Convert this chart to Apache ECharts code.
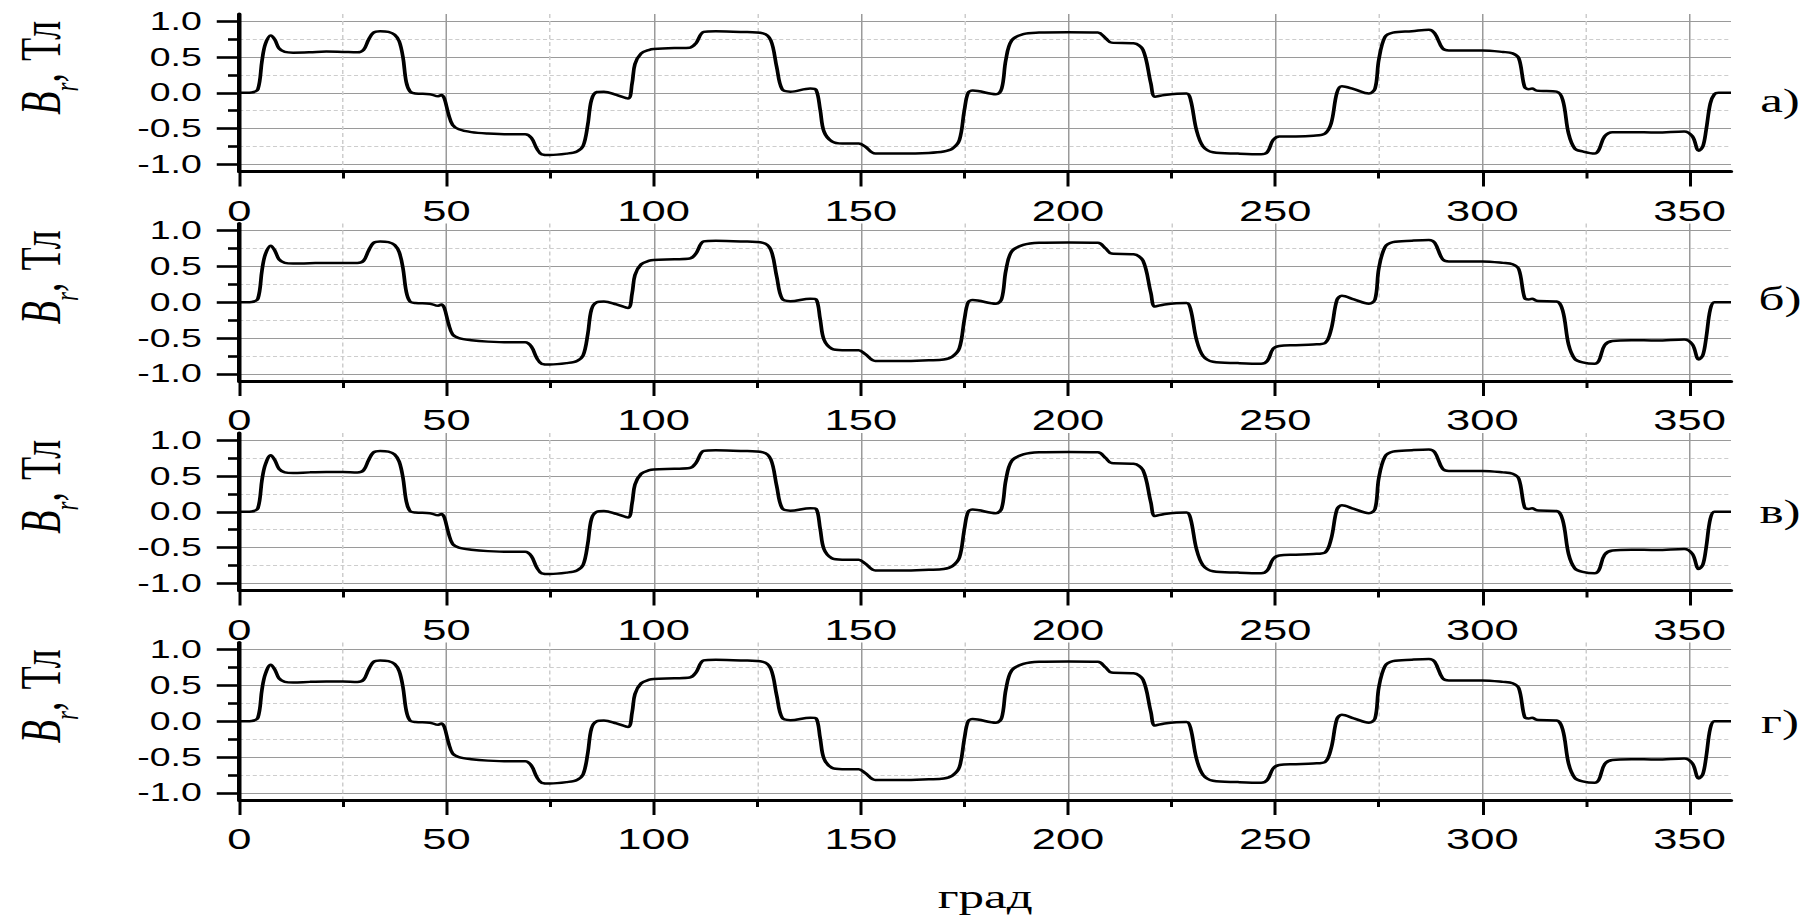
<!DOCTYPE html>
<html><head><meta charset="utf-8">
<script src="https://cdn.jsdelivr.net/npm/echarts@6/dist/echarts.min.js"></script>
<style>
html,body{margin:0;padding:0;background:#fff;overflow:hidden}
#wrap{width:1819px;height:916px;overflow:hidden;position:relative;background:#fff}
#c{position:absolute;left:0;top:0;height:916px;transform-origin:0 0}
</style></head>
<body><div id="wrap"><div id="c"></div></div>
<script>
// ---- data (angle in degrees, Br in T) ----
const angles = [
 0,3,4.5,5.5,6.3,7.6,8.6,9.6,11,13,
 17,21,25,28.5,30,31.2,32.4,34,36,37.5,
 38.6,39.5,40.3,41.2,42.5,46,48,48.8,49.5,50.5,
 51.5,53,56,60,65,69,70.5,71.8,73,75,
 79,81.5,83,84.1,85,86.3,88,91,93.8,94.8,
 95.5,97,99,100,105,108.7,110.2,112.1,115,121,
 126.4,128.3,129.7,131,133,137.8,139.2,140.2,141.1,143,
 145.5,149.5,151,153.5,160,166.4,170,172.1,173.8,175,
 175.9,177,182.6,184,185,186.4,189.2,193,200,207.2,
 209.1,210.5,215.8,218.1,220,221,223.3,228.6,229.6,231,
 232.6,235,241,246.6,248.1,249.5,251,255,259.2,262,
 263.5,264.9,266.1,269,272.6,274.1,275,276.5,278.4,283,
 287.1,288.5,290.4,291.9,300,305,307.3,308.8,310.2,311.2,
 312,313.1,317.9,319.4,320.8,322.3,324.2,327.1,328.1,329.5,
 331.4,336,342,348.7,350.7,352.2,353.2,354,355,356,
 357,360
];
const brA = [
 0,0.005,0.05,0.45,0.68,0.80,0.74,0.62,0.57,0.56,
 0.565,0.575,0.57,0.565,0.6,0.74,0.84,0.86,0.85,0.81,
 0.72,0.5,0.15,0.02,-0.01,-0.02,-0.05,-0.03,-0.08,-0.3,
 -0.45,-0.51,-0.55,-0.57,-0.58,-0.58,-0.63,-0.78,-0.86,-0.87,
 -0.85,-0.82,-0.74,-0.45,-0.1,0.01,0.015,-0.03,-0.08,0.13,
 0.4,0.55,0.6,0.61,0.625,0.63,0.69,0.85,0.86,0.85,
 0.83,0.73,0.36,0.05,0.015,0.06,0.04,-0.24,-0.54,-0.68,
 -0.71,-0.71,-0.75,-0.85,-0.85,-0.84,-0.82,-0.78,-0.66,-0.24,
 0.0,0.03,-0.02,0.06,0.46,0.73,0.82,0.84,0.845,0.84,
 0.76,0.70,0.69,0.6,0.13,-0.055,-0.03,-0.01,-0.1,-0.52,
 -0.75,-0.83,-0.85,-0.86,-0.83,-0.66,-0.61,-0.61,-0.6,-0.57,
 -0.43,0.0,0.09,0.05,-0.01,0.06,0.46,0.78,0.84,0.86,
 0.88,0.83,0.62,0.59,0.59,0.57,0.55,0.48,0.08,0.05,
 0.06,0.03,0.015,-0.1,-0.57,-0.78,-0.82,-0.85,-0.8,-0.61,
 -0.55,-0.55,-0.555,-0.54,-0.61,-0.81,-0.75,-0.52,-0.15,-0.02,
 0,0
];
const brB = [
 0,0.005,0.05,0.45,0.67,0.79,0.72,0.60,0.55,0.54,
 0.545,0.55,0.55,0.55,0.58,0.72,0.83,0.85,0.84,0.80,
 0.70,0.48,0.15,0.01,-0.01,-0.02,-0.05,-0.03,-0.08,-0.3,
 -0.45,-0.5,-0.53,-0.55,-0.56,-0.56,-0.62,-0.78,-0.86,-0.87,
 -0.85,-0.82,-0.74,-0.45,-0.1,0.0,0.01,-0.03,-0.08,0.12,
 0.38,0.53,0.58,0.59,0.6,0.61,0.68,0.85,0.86,0.85,
 0.83,0.73,0.36,0.05,0.015,0.05,0.04,-0.24,-0.52,-0.65,
 -0.67,-0.67,-0.72,-0.82,-0.82,-0.81,-0.8,-0.76,-0.64,-0.24,
 0.0,0.03,-0.02,0.05,0.44,0.71,0.80,0.83,0.835,0.83,
 0.75,0.68,0.67,0.58,0.13,-0.06,-0.03,-0.01,-0.1,-0.52,
 -0.75,-0.83,-0.85,-0.86,-0.82,-0.65,-0.61,-0.60,-0.59,-0.57,
 -0.38,0.03,0.09,0.04,-0.02,0.04,0.47,0.77,0.84,0.86,
 0.87,0.83,0.6,0.57,0.57,0.55,0.53,0.46,0.06,0.04,
 0.05,0.02,0.01,-0.12,-0.59,-0.79,-0.84,-0.86,-0.82,-0.6,
 -0.54,-0.53,-0.535,-0.52,-0.59,-0.8,-0.74,-0.5,-0.1,0,
 0,0
];
const brC = [
 0,0.005,0.05,0.45,0.66,0.79,0.72,0.60,0.55,0.54,
 0.55,0.555,0.555,0.55,0.58,0.72,0.83,0.85,0.84,0.80,
 0.70,0.48,0.15,0.01,-0.01,-0.02,-0.05,-0.03,-0.08,-0.3,
 -0.45,-0.5,-0.53,-0.55,-0.56,-0.56,-0.62,-0.78,-0.86,-0.87,
 -0.85,-0.82,-0.74,-0.45,-0.1,0.0,0.01,-0.03,-0.08,0.12,
 0.38,0.53,0.58,0.59,0.6,0.61,0.68,0.85,0.86,0.85,
 0.83,0.73,0.36,0.05,0.015,0.05,0.04,-0.24,-0.52,-0.65,
 -0.67,-0.67,-0.72,-0.82,-0.82,-0.81,-0.8,-0.76,-0.64,-0.24,
 0.0,0.03,-0.02,0.05,0.44,0.71,0.80,0.83,0.835,0.83,
 0.75,0.68,0.67,0.58,0.13,-0.06,-0.03,-0.01,-0.1,-0.52,
 -0.75,-0.83,-0.85,-0.86,-0.82,-0.66,-0.61,-0.60,-0.59,-0.57,
 -0.38,0.03,0.09,0.04,-0.02,0.04,0.47,0.77,0.84,0.86,
 0.87,0.83,0.6,0.57,0.57,0.55,0.53,0.46,0.06,0.04,
 0.05,0.02,0.01,-0.12,-0.59,-0.79,-0.84,-0.86,-0.82,-0.6,
 -0.54,-0.53,-0.535,-0.52,-0.59,-0.8,-0.74,-0.5,-0.1,0,
 0,0
];
const brD = [
 0,0.005,0.05,0.45,0.66,0.79,0.72,0.60,0.55,0.54,
 0.55,0.555,0.555,0.55,0.58,0.72,0.83,0.85,0.84,0.80,
 0.70,0.48,0.15,0.01,-0.01,-0.02,-0.05,-0.03,-0.08,-0.3,
 -0.45,-0.5,-0.53,-0.55,-0.56,-0.56,-0.62,-0.78,-0.86,-0.87,
 -0.85,-0.82,-0.74,-0.45,-0.1,0.0,0.01,-0.03,-0.08,0.12,
 0.38,0.53,0.58,0.59,0.6,0.61,0.68,0.85,0.86,0.85,
 0.83,0.73,0.36,0.05,0.015,0.05,0.04,-0.24,-0.52,-0.65,
 -0.67,-0.67,-0.72,-0.82,-0.82,-0.81,-0.8,-0.76,-0.64,-0.24,
 0.0,0.03,-0.02,0.05,0.44,0.71,0.80,0.83,0.835,0.83,
 0.75,0.68,0.67,0.58,0.13,-0.06,-0.03,-0.01,-0.1,-0.52,
 -0.75,-0.83,-0.85,-0.86,-0.82,-0.66,-0.61,-0.60,-0.59,-0.57,
 -0.38,0.03,0.09,0.04,-0.02,0.04,0.47,0.77,0.84,0.86,
 0.87,0.83,0.6,0.57,0.57,0.55,0.53,0.46,0.06,0.04,
 0.05,0.02,0.01,-0.12,-0.59,-0.79,-0.84,-0.86,-0.82,-0.6,
 -0.54,-0.53,-0.535,-0.52,-0.59,-0.8,-0.74,-0.5,-0.1,0,
 0,0
];
const panelSeries = [brA, brB, brC, brD];
const panelLabels = ['а)', 'б)', 'в)', 'г)'];
const xMajor = [0, 50, 100, 150, 200, 250, 300, 350];
const xMinor = [25, 75, 125, 175, 225, 275, 325];
const yMajor = [-1, -0.5, 0, 0.5, 1];
const yMinor = [-0.75, -0.25, 0.25, 0.75];
const xAxisTitle = 'град';
const yAxisTitle = '{b|B}{r|r}{c|,}{t|Тл}';

// ---- layout (target pixels; the drawing is stretched horizontally by S) ----
const S = 1.5;
const W = 1819 / S;
const el = document.getElementById('c');
el.style.width = W + 'px';
el.style.transform = 'scaleX(' + S + ')';
const chart = echarts.init(el, null, {renderer: 'svg', width: W, height: 916});

const tops = [14, 223.5, 433, 642.5];
const GH = 157.5, GL = 232, GW = 1499;
const labelY = [100, 298, 511, 721];
const MAJ = '#9a9a9a', MIN = '#cdcdcd';

const grid = [], xAxis = [], yAxis = [], series = [], graphic = [];
for (let i = 0; i < 4; i++) {
  grid.push({left: GL / S, width: GW / S, top: tops[i], height: GH, containLabel: false});
  xAxis.push({
    gridIndex: i, type: 'value', min: 0, max: 360, position: 'bottom',
    axisLine: {show: true, onZero: false, lineStyle: {color: '#000', width: 3}},
    axisTick: {show: true, customValues: xMajor, length: 15, lineStyle: {color: '#000', width: 2}},
    axisLabel: {show: true, customValues: xMajor, margin: 25, color: '#000',
      fontFamily: 'Liberation Sans', fontSize: 29},
    splitLine: {show: true, lineStyle: {color: MAJ, width: 1}},
    name: i === 3 ? xAxisTitle : '', nameLocation: 'middle', nameGap: 79,
    nameTextStyle: {fontFamily: 'Liberation Serif', fontSize: 34, color: '#000'}
  });
  xAxis.push({
    gridIndex: i, type: 'value', min: 0, max: 360, position: 'bottom',
    axisLine: {show: false, onZero: false},
    axisTick: {show: true, customValues: xMinor, length: 7, lineStyle: {color: '#000', width: 2}},
    axisLabel: {show: false},
    splitLine: {show: true, lineStyle: {color: MIN, width: 1, type: [4, 3]}}
  });
  yAxis.push({
    gridIndex: i, type: 'value', min: -1.1, max: 1.1, position: 'left',
    axisLine: {show: true, onZero: false, lineStyle: {color: '#000', width: 3}},
    axisTick: {show: true, customValues: yMajor, length: 15, lineStyle: {color: '#000', width: 2.6}},
    axisLabel: {show: true, customValues: yMajor, margin: 25, color: '#000',
      fontFamily: 'Liberation Sans', fontSize: 25, formatter: v => Number(v).toFixed(1)},
    splitLine: {show: true, lineStyle: {color: MAJ, width: 1}},
    name: yAxisTitle, nameLocation: 'middle', nameRotate: 90, nameGap: 104,
    nameTextStyle: {padding: [0, 0, 0, 50], rich: {
      b: {fontFamily: 'Liberation Serif', fontStyle: 'italic', fontSize: 38, color: '#000'},
      r: {fontFamily: 'Liberation Serif', fontStyle: 'italic', fontSize: 23, color: '#000', padding: [34, 0, 0, 0]},
      c: {fontFamily: 'Liberation Serif', fontSize: 38, color: '#000', padding: [0, 12, 0, 0]},
      t: {fontFamily: 'Liberation Serif', fontSize: 38, color: '#000'}
    }}
  });
  yAxis.push({
    gridIndex: i, type: 'value', min: -1.1, max: 1.1, position: 'left',
    axisLine: {show: false, onZero: false},
    axisTick: {show: true, customValues: yMinor, length: 7.5, lineStyle: {color: '#000', width: 2.6}},
    axisLabel: {show: false},
    splitLine: {show: true, lineStyle: {color: MIN, width: 1, type: [2.7, 1.8]}}
  });
  series.push({
    type: 'line', xAxisIndex: 2 * i, yAxisIndex: 2 * i,
    data: angles.map((a, j) => [a, panelSeries[i][j]]),
    showSymbol: false, smooth: 0.35, silent: true, z: 5,
    lineStyle: {color: '#000', width: 2.5}
  });
  graphic.push({
    type: 'text', x: 1780 / S, y: labelY[i],
    style: {text: panelLabels[i], fill: '#000', font: '34px "Liberation Serif"',
      textAlign: 'center', textVerticalAlign: 'middle'}
  });
}

chart.setOption({
  backgroundColor: '#fff',
  animation: false,
  grid, xAxis, yAxis, series, graphic
});
</script>
</body></html>
